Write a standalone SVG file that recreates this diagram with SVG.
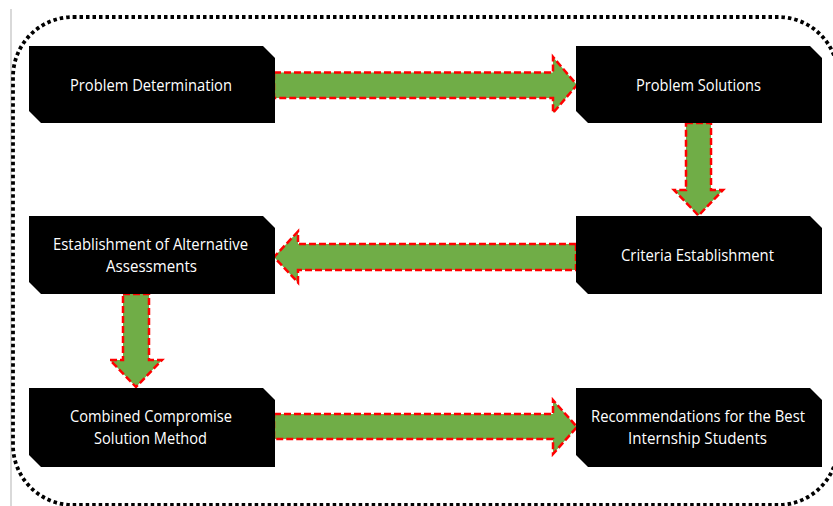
<svg xmlns="http://www.w3.org/2000/svg" width="833" height="506" viewBox="0 0 833 506">
  <style>
    .node { fill: #000000; }
    .label { fill: #ffffff; font-family: "Open Sans", "Noto Sans", "DejaVu Sans", sans-serif; font-size: 15.5px; text-anchor: middle; }
    .arrow { fill: #70AD47; stroke: #FF0000; stroke-width: 2.5; stroke-dasharray: 7 3; stroke-linejoin: miter; }
  </style>
  <rect x="0" y="0" width="833" height="506" fill="#ffffff"/>
  <line x1="11" y1="9" x2="11" y2="506" stroke="#d9d9d9" stroke-width="2"/>
  <rect x="13" y="17" width="825" height="488" rx="60" ry="60" fill="none" stroke="#000000" stroke-width="3.8" stroke-dasharray="3.5 3"/>

  <g id="connectors">
    <path class="arrow" d="M274 72.5 H553 V57 L577 85 L553 113 V98 H274 Z"/>
    <path class="arrow" d="M686 123 H711 V190 H723 L698.5 215.5 L674 190 H686 Z"/>
    <path class="arrow" d="M576 244 V270 H298 V282.5 L274 257 L298 231.5 V244 Z"/>
    <path class="arrow" d="M123 294 H149 V360 H162 L136 387 L110 360 H123 Z"/>
    <path class="arrow" d="M274 414 H553 V400 L577 427 L553 454 V439 H274 Z"/>
  </g>

  <g id="node-problem-determination">
    <path class="node" d="M29 46 H263 L275 58 V123 H41 L29 111 Z"/>
    <text class="label" x="151" y="91" textLength="162" lengthAdjust="spacingAndGlyphs">Problem Determination</text>
  </g>
  <g id="node-problem-solutions">
    <path class="node" d="M576 46 H810 L822 58 V123 H588 L576 111 Z"/>
    <text class="label" x="698.5" y="91" textLength="125" lengthAdjust="spacingAndGlyphs">Problem Solutions</text>
  </g>
  <g id="node-criteria-establishment">
    <path class="node" d="M576 216 H810 L822 228 V294 H588 L576 282 Z"/>
    <text class="label" x="697.5" y="261" textLength="153" lengthAdjust="spacingAndGlyphs">Criteria Establishment</text>
  </g>
  <g id="node-establishment-alternative">
    <path class="node" d="M29 216 H263 L275 228 V294 H41 L29 282 Z"/>
    <text class="label" x="150.5" y="250" textLength="195" lengthAdjust="spacingAndGlyphs">Establishment of Alternative</text>
    <text class="label" x="151.5" y="271.5" textLength="91" lengthAdjust="spacingAndGlyphs">Assessments</text>
  </g>
  <g id="node-combined-compromise">
    <path class="node" d="M29 388 H263 L275 400 V467 H41 L29 455 Z"/>
    <text class="label" x="151" y="422" textLength="162" lengthAdjust="spacingAndGlyphs">Combined Compromise</text>
    <text class="label" x="150.5" y="443.5" textLength="113" lengthAdjust="spacingAndGlyphs">Solution Method</text>
  </g>
  <g id="node-recommendations">
    <path class="node" d="M576 388 H810 L822 400 V467 H588 L576 455 Z"/>
    <text class="label" x="698" y="422" textLength="214" lengthAdjust="spacingAndGlyphs">Recommendations for the Best</text>
    <text class="label" x="697.5" y="443.5" textLength="139" lengthAdjust="spacingAndGlyphs">Internship Students</text>
  </g>
</svg>
